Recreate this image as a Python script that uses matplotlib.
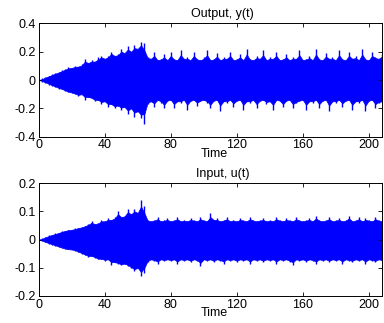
import matplotlib
matplotlib.use('Agg')
import matplotlib.pyplot as plt
import numpy as np

plt.rcParams['font.family'] = ['Liberation Sans', 'DejaVu Sans']

# time axis, sampled every 2 s (0..208)
t = np.arange(0, 210, 2)

# envelope of the output y(t)
y_hi = [0.0, 0.012, 0.022, 0.03, 0.04, 0.05, 0.055, 0.07, 0.075, 0.09,
        0.085, 0.1, 0.095, 0.11, 0.15, 0.12, 0.14, 0.13, 0.16, 0.17,
        0.15, 0.17, 0.2, 0.17, 0.18, 0.22, 0.19, 0.24, 0.2, 0.25,
        0.22, 0.27, 0.26, 0.16, 0.15, 0.2, 0.14, 0.15, 0.18, 0.14,
        0.2, 0.15, 0.14, 0.21, 0.15, 0.16, 0.14, 0.2, 0.15, 0.14,
        0.16, 0.21, 0.14, 0.15, 0.19, 0.14, 0.16, 0.15, 0.2, 0.14,
        0.15, 0.18, 0.14, 0.22, 0.15, 0.14, 0.17, 0.15, 0.21, 0.14,
        0.16, 0.15, 0.2, 0.14, 0.15, 0.18, 0.14, 0.16, 0.15, 0.21,
        0.14, 0.15, 0.17, 0.14, 0.22, 0.15, 0.14, 0.19, 0.15, 0.16,
        0.14, 0.21, 0.15, 0.14, 0.2, 0.15, 0.17, 0.14, 0.22, 0.15,
        0.14, 0.2, 0.16, 0.15, 0.18]
y_lo = [0.0, -0.012, -0.02, -0.032, -0.04, -0.05, -0.06, -0.065, -0.08, -0.085,
        -0.09, -0.1, -0.11, -0.1, -0.14, -0.12, -0.13, -0.15, -0.14, -0.17,
        -0.15, -0.19, -0.17, -0.2, -0.18, -0.21, -0.19, -0.24, -0.2, -0.26,
        -0.22, -0.27, -0.31, -0.17, -0.15, -0.19, -0.14, -0.16, -0.2, -0.15,
        -0.14, -0.2, -0.15, -0.16, -0.14, -0.21, -0.15, -0.14, -0.18, -0.15,
        -0.14, -0.16, -0.2, -0.15, -0.14, -0.22, -0.15, -0.16, -0.14, -0.19,
        -0.15, -0.14, -0.21, -0.15, -0.16, -0.14, -0.2, -0.15, -0.14, -0.17,
        -0.15, -0.21, -0.14, -0.15, -0.19, -0.15, -0.14, -0.2, -0.16, -0.15,
        -0.14, -0.21, -0.15, -0.16, -0.14, -0.2, -0.15, -0.14, -0.22, -0.15,
        -0.16, -0.14, -0.19, -0.15, -0.14, -0.21, -0.15, -0.16, -0.14, -0.22,
        -0.15, -0.14, -0.2, -0.16, -0.15]

# envelope of the input u(t)
u_hi = [0.0, 0.006, 0.01, 0.015, 0.018, 0.022, 0.025, 0.03, 0.032, 0.035,
        0.035, 0.04, 0.042, 0.045, 0.05, 0.055, 0.065, 0.055, 0.06, 0.07,
        0.065, 0.075, 0.07, 0.08, 0.1, 0.08, 0.085, 0.11, 0.09, 0.11,
        0.095, 0.14, 0.12, 0.07, 0.065, 0.07, 0.08, 0.065, 0.07, 0.075,
        0.065, 0.07, 0.08, 0.065, 0.07, 0.065, 0.075, 0.07, 0.065, 0.08,
        0.07, 0.065, 0.095, 0.07, 0.075, 0.065, 0.07, 0.08, 0.065, 0.07,
        0.065, 0.075, 0.07, 0.065, 0.08, 0.07, 0.065, 0.07, 0.075, 0.065,
        0.07, 0.065, 0.08, 0.07, 0.065, 0.075, 0.07, 0.065, 0.08, 0.07,
        0.065, 0.07, 0.075, 0.065, 0.085, 0.07, 0.065, 0.07, 0.08, 0.065,
        0.07, 0.075, 0.065, 0.07, 0.085, 0.065, 0.07, 0.08, 0.065, 0.075,
        0.07, 0.065, 0.08, 0.07, 0.065]
u_lo = [0.0, -0.006, -0.01, -0.014, -0.018, -0.022, -0.026, -0.03, -0.033, -0.035,
        -0.035, -0.04, -0.045, -0.05, -0.055, -0.06, -0.058, -0.065, -0.07, -0.068,
        -0.075, -0.07, -0.09, -0.08, -0.085, -0.09, -0.085, -0.095, -0.1, -0.11,
        -0.1, -0.13, -0.12, -0.08, -0.07, -0.075, -0.085, -0.07, -0.075, -0.07,
        -0.075, -0.07, -0.085, -0.07, -0.075, -0.07, -0.08, -0.07, -0.075, -0.095,
        -0.07, -0.075, -0.07, -0.08, -0.07, -0.075, -0.085, -0.07, -0.075, -0.07,
        -0.08, -0.07, -0.075, -0.07, -0.085, -0.07, -0.075, -0.07, -0.08, -0.07,
        -0.075, -0.07, -0.085, -0.07, -0.075, -0.07, -0.08, -0.09, -0.07, -0.075,
        -0.07, -0.08, -0.07, -0.075, -0.085, -0.07, -0.075, -0.07, -0.08, -0.07,
        -0.075, -0.07, -0.085, -0.07, -0.075, -0.08, -0.07, -0.075, -0.07, -0.085,
        -0.07, -0.075, -0.08, -0.07, -0.075]

xticks = [0, 40, 80, 120, 160, 200]


def core(v, fn):
    # solid part of the trace: halfway between the sample and its smallest neighbour
    v = np.asarray(v)
    a = np.r_[v[:1], v[:-1]]
    b = np.r_[v[1:], v[-1:]]
    return 0.5 * (v + fn(fn(a, v), b))


fig = plt.figure(figsize=(3.84, 3.23), dpi=100)
ax1 = fig.add_axes([0.1008, 0.5768, 0.894, 0.351])
ax2 = fig.add_axes([0.1008, 0.0836, 0.894, 0.349])

panels = [(ax1, y_lo, y_hi, 'Output, y(t)', [-0.4, -0.2, 0, 0.2, 0.4], 0.4),
          (ax2, u_lo, u_hi, 'Input, u(t)', [-0.2, -0.1, 0, 0.1, 0.2], 0.2)]

for ax, lo, hi, title, yt, lim in panels:
    ax.fill_between(t, core(lo, np.maximum), core(hi, np.minimum),
                    color='b', lw=0.5)
    ax.vlines(t, lo, hi, color='b', lw=1.0)
    ax.set_xlim(0, 208)
    ax.set_ylim(-lim, lim)
    ax.set_xticks(xticks)
    ax.set_yticks(yt)
    ax.set_yticklabels(['%g' % v if v != 0 else '0' for v in yt])
    ax.tick_params(direction='in', top=True, right=True, length=3,
                   width=0.6, labelsize=9, pad=2)
    for s in ax.spines.values():
        s.set_linewidth(0.7)
    ax.set_title(title, fontsize=9, x=0.535, pad=4.5)
    ax.set_xlabel('Time', fontsize=9)
    ax.xaxis.set_label_coords(0.511, -0.1)
    ax.xaxis.label.set_va('top')

fig.savefig('out.png', dpi=100)
